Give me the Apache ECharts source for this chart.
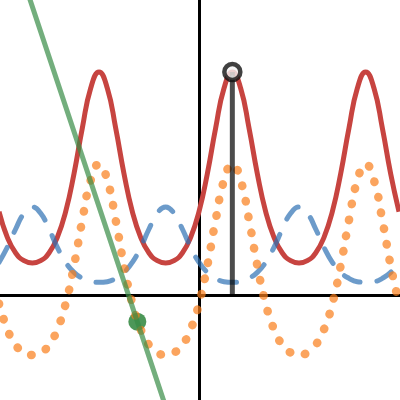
<!DOCTYPE html>
<html>
<head>
<meta charset="utf-8">
<script src="https://cdn.jsdelivr.net/npm/echarts@6/dist/echarts.min.js"></script>
<style>
  html, body { margin: 0; padding: 0; background: #fff; }
  #chart { width: 400px; height: 400px; }
</style>
</head>
<body>
<div id="chart"></div>
<script>
// sample positions along x (step 0.25)
const xs = [-6, -5.75, -5.5, -5.25, -5, -4.75, -4.5, -4.25, -4, -3.75, -3.5, -3.25, -3,
  -2.75, -2.5, -2.25, -2, -1.75, -1.5, -1.25, -1, -0.75, -0.5, -0.25, 0,
  0.25, 0.5, 0.75, 1, 1.25, 1.5, 1.75, 2, 2.25, 2.5, 2.75, 3,
  3.25, 3.5, 3.75, 4, 4.25, 4.5, 4.75, 5, 5.25, 5.5, 5.75, 6];

// red solid curve
const redY = [2.50, 1.73, 1.26, 1.03, 0.96, 1.03, 1.26, 1.73, 2.50, 3.64, 5.01, 6.20, 6.69,
  6.20, 5.01, 3.64, 2.50, 1.73, 1.26, 1.03, 0.96, 1.03, 1.26, 1.73, 2.50,
  3.64, 5.01, 6.20, 6.69, 6.20, 5.01, 3.64, 2.50, 1.73, 1.26, 1.03, 0.96,
  1.03, 1.26, 1.73, 2.50, 3.64, 5.01, 6.20, 6.69, 6.20, 5.01, 3.64, 2.50];

// orange dotted curve
const orangeY = [-0.26, -1.03, -1.50, -1.73, -1.80, -1.73, -1.50, -1.03, -0.26, 0.88, 2.25, 3.44, 3.93,
  3.44, 2.25, 0.88, -0.26, -1.03, -1.50, -1.73, -1.80, -1.73, -1.50, -1.03, -0.26,
  0.88, 2.25, 3.44, 3.93, 3.44, 2.25, 0.88, -0.26, -1.03, -1.50, -1.73, -1.80,
  -1.73, -1.50, -1.03, -0.26, 0.88, 2.25, 3.44, 3.93, 3.44, 2.25, 0.88, -0.26];

// blue dashed curve
const blueY = [0.98, 1.43, 1.98, 2.45, 2.64, 2.45, 1.98, 1.43, 0.98, 0.68, 0.50, 0.40, 0.38,
  0.40, 0.50, 0.68, 0.98, 1.43, 1.98, 2.45, 2.64, 2.45, 1.98, 1.43, 0.98,
  0.68, 0.50, 0.40, 0.38, 0.40, 0.50, 0.68, 0.98, 1.43, 1.98, 2.45, 2.64,
  2.45, 1.98, 1.43, 0.98, 0.68, 0.50, 0.40, 0.38, 0.40, 0.50, 0.68, 0.98];

// green straight line (two end points) and its marked point
const greenLine = [[-5.3, 9.55], [-0.9, -3.65]];
const greenPoint = [[-1.85, -0.8]];

// black vertical segment and open circle at red peak
const stem = [[1, 0], [1, 6.69]];
const peakPoint = [[1, 6.69]];

const zip = (a, b) => a.map((v, i) => [v, b[i]]);

const chart = echarts.init(document.getElementById('chart'));
const hidden = { show: false };
chart.setOption({
  animation: false,
  grid: { left: 0, right: 0, top: 0, bottom: 0 },
  xAxis: {
    type: 'value', min: -5.97, max: 6.03,
    axisLine: { onZero: true, lineStyle: { color: '#000', width: 3 } },
    axisTick: hidden, axisLabel: hidden, splitLine: hidden
  },
  yAxis: {
    type: 'value', min: -3.15, max: 8.85,
    axisLine: { onZero: true, lineStyle: { color: '#000', width: 3 } },
    axisTick: hidden, axisLabel: hidden, splitLine: hidden
  },
  series: [
    {
      type: 'line', data: zip(xs, redY), smooth: true, showSymbol: false,
      lineStyle: { color: '#c74440', width: 5 }
    },
    {
      type: 'line', data: zip(xs, blueY), smooth: true, showSymbol: false,
      lineStyle: { color: '#2d70b3', width: 5, opacity: 0.7, type: [17, 17], cap: 'round' }
    },
    {
      type: 'line', data: zip(xs, orangeY), smooth: true, showSymbol: false,
      lineStyle: { color: '#fa7e19', width: 8.5, opacity: 0.7, type: [0.5, 15.5], cap: 'round' }
    },
    {
      type: 'line', data: greenLine, showSymbol: false,
      lineStyle: { color: '#388c46', width: 5, opacity: 0.7 }
    },
    {
      type: 'scatter', data: greenPoint, symbolSize: 18,
      itemStyle: { color: '#388c46', opacity: 0.9 }
    },
    {
      type: 'line', data: stem, showSymbol: false,
      lineStyle: { color: '#000', width: 5, opacity: 0.7 }
    },
    {
      type: 'scatter', data: peakPoint, symbolSize: 16, z: 10,
      itemStyle: { color: '#f4f4f4', borderColor: '#111', borderWidth: 4.5 }
    }
  ]
});
</script>
</body>
</html>
